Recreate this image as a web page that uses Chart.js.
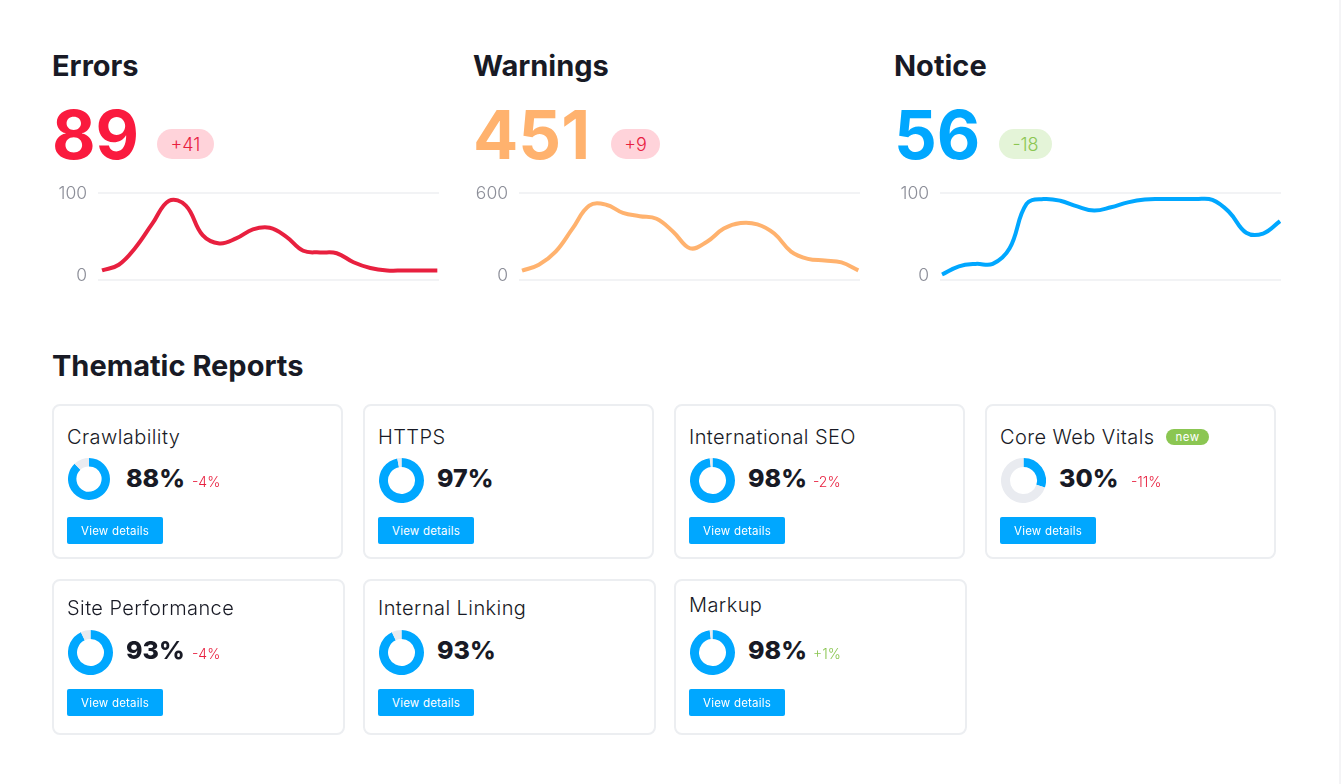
<!DOCTYPE html>
<html>
<head>
<meta charset="utf-8">
<script src="https://cdn.jsdelivr.net/npm/chart.js@4"></script>
<style>
  html, body { margin: 0; padding: 0; background: #fff; }
  body { width: 1341px; height: 784px; position: relative; overflow: hidden; font-family: Inter, sans-serif; color: #181a25; }
  #edge { position: absolute; left: 1339px; top: 0; width: 2px; height: 784px; background: #f4f4f6; }
  .abs { position: absolute; white-space: nowrap; }
  .heading { font-size: 29px; font-weight: 700; line-height: 34px; }
  .big { font-size: 67px; font-weight: 700; line-height: 80px; }
  .badge { height: 30px; line-height: 31px; border-radius: 15px; font-size: 18px; font-weight: 300; text-align: center; }
  .spark { position: absolute; width: 387px; height: 130px; top: 171px; }
  .card { position: absolute; box-sizing: border-box; border: 2px solid #eceef1; border-radius: 8px; background: #fff; }
  .card-title { position: absolute; left: 13px; font-size: 20px; line-height: 24px; white-space: nowrap; letter-spacing: .42px; font-weight: 300; }
  .donut { position: absolute; left: 14px; }
  .pct { position: absolute; left: 72px; font-size: 25px; font-weight: 800; line-height: 34px; }
  .delta { position: absolute; font-size: 14px; line-height: 18px; font-weight: 300; }
  .btn { position: absolute; left: 13px; width: 96px; height: 27px; line-height: 28px; background: #00a7ff; color: #fff; font-size: 11.5px; text-align: center; border-radius: 2px; letter-spacing: .2px; }
  .new { position: absolute; left: 179px; top: 23px; width: 43px; height: 16px; line-height: 16px; border-radius: 8px; background: #8bc652; color: #fff; font-size: 11.5px; text-align: center; letter-spacing: .4px; }
</style>
</head>
<body>
<div id="edge"></div>
<div id="top"></div>
<div class="abs heading" style="left:52px;top:349px">Thematic Reports</div>
<div id="cards"></div>
<script>
// Top row
const summaryTitles = ['Errors', 'Warnings', 'Notice'];
const summaryValues = ['89', '451', '56'];
const summaryChanges = ['+41', '+9', '-18'];
const summaryMax = [100, 600, 100];

const errorsLine = [5, 12, 33, 62, 90, 84, 48, 38, 44, 55, 57, 46, 29, 27, 26, 15, 8, 5, 5, 5, 5];
const warningsLine = [29, 72, 168, 336, 504, 511, 451, 427, 408, 312, 192, 240, 336, 377, 367, 300, 168, 115, 103, 89, 31];
const noticeLine = [0, 10, 13, 13, 32, 86, 92, 90, 83, 78, 82, 88, 91.5, 92, 92, 92, 91, 76, 51, 50, 65];

// Thematic reports
const reportNames = ['Crawlability', 'HTTPS', 'International SEO', 'Core Web Vitals', 'Site Performance', 'Internal Linking', 'Markup'];
const reportScores = [88, 97, 98, 30, 93, 93, 98];
const reportDeltas = ['-4%', '', '-2%', '-11%', '-4%', '', '+1%'];

const BLUE = '#00a7ff';
const RED = '#e8203f';
const GREEN = '#8bc652';

// Layout only
const topLayout = [
  { left: 52, big: '#fa1a3e', line: '#e8203f', badgeLeft: 157, badgeW: 57, bg: '#ffd3da', fg: RED, xMin: -0.24, xMax: 20.1 },
  { left: 473, big: '#ffb26e', line: '#ffb26e', badgeLeft: 611, badgeW: 49, bg: '#ffd3da', fg: RED, xMin: -0.18, xMax: 20.1 },
  { left: 894, big: BLUE, line: BLUE, badgeLeft: 999, badgeW: 53, bg: '#e4f4d8', fg: GREEN, xMin: -0.12, xMax: 20.06 }
];
const cardLayout = [
  { x: 52, y: 404, w: 291, h: 155, titleY: 19, donutY: 52, donut: 42, btnY: 111, deltaX: 138, pctY: 55 },
  { x: 363, y: 404, w: 291, h: 155, titleY: 19, donutY: 52, donut: 45, btnY: 111, deltaX: 138, pctY: 55 },
  { x: 674, y: 404, w: 291, h: 155, titleY: 19, donutY: 52, donut: 45, btnY: 111, deltaX: 137, pctY: 55 },
  { x: 985, y: 404, w: 291, h: 155, titleY: 19, donutY: 52, donut: 45, btnY: 111, deltaX: 144, pctY: 55 },
  { x: 52, y: 579, w: 293, h: 156, titleY: 15, donutY: 49, donut: 45, btnY: 108, deltaX: 138, pctY: 52 },
  { x: 363, y: 579, w: 293, h: 156, titleY: 15, donutY: 49, donut: 45, btnY: 108, deltaX: 138, pctY: 52 },
  { x: 674, y: 579, w: 293, h: 156, titleY: 12, donutY: 49, donut: 45, btnY: 108, deltaX: 137, pctY: 52 }
];

Chart.defaults.font.family = 'Inter, sans-serif';
Chart.defaults.animation = false;

const topEl = document.getElementById('top');
const lines = [errorsLine, warningsLine, noticeLine];

summaryTitles.forEach((title, i) => {
  const l = topLayout[i];
  topEl.insertAdjacentHTML('beforeend', `
    <div class="abs heading" style="left:${l.left}px;top:49px">${title}</div>
    <div class="abs big" style="left:${l.left}px;top:95px;color:${l.big}">${summaryValues[i]}</div>
    <div class="abs badge" style="left:${l.badgeLeft}px;top:129px;width:${l.badgeW}px;background:${l.bg};color:${l.fg}">${summaryChanges[i]}</div>
    <div class="spark" style="left:${l.left}px"><canvas id="line${i}"></canvas></div>`);

  const max = summaryMax[i];
  // the bottom rule sits a little under zero
  const floor = -max * 0.06;
  new Chart(document.getElementById('line' + i), {
    type: 'line',
    data: {
      datasets: [{
        data: lines[i].map((v, idx) => ({ x: idx, y: v })),
        borderColor: l.line,
        borderWidth: 4,
        pointRadius: 0,
        tension: 0.4,
        clip: false
      }]
    },
    options: {
      responsive: true,
      maintainAspectRatio: false,
      plugins: { legend: { display: false }, tooltip: { enabled: false } },
      scales: {
        x: { type: 'linear', display: false, min: l.xMin, max: l.xMax },
        y: {
          min: floor,
          max: max,
          afterBuildTicks: (axis) => { axis.ticks = [{ value: floor }, { value: 0 }, { value: max }]; },
          afterFit: (axis) => { axis.width = 46; },
          border: { display: false },
          grid: {
            drawTicks: false,
            lineWidth: 2,
            color: (ctx) => ctx.tick && ctx.tick.value === 0 ? 'rgba(0,0,0,0)' : '#f2f3f5'
          },
          ticks: {
            padding: 11,
            labelOffset: 1,
            color: '#8d8f99',
            font: { size: 17.5, weight: 300 },
            callback: (value) => value === floor ? '' : value
          }
        }
      }
    }
  });
});

const cardsEl = document.getElementById('cards');
reportNames.forEach((name, i) => {
  const c = cardLayout[i];
  const delta = reportDeltas[i];
  const deltaColor = delta.startsWith('+') ? GREEN : RED;
  cardsEl.insertAdjacentHTML('beforeend', `
    <div class="card" style="left:${c.x}px;top:${c.y}px;width:${c.w}px;height:${c.h}px">
      <div class="card-title" style="top:${c.titleY}px">${name}</div>
      ${name === 'Core Web Vitals' ? '<div class="new">new</div>' : ''}
      <div class="donut" style="top:${c.donutY}px;width:${c.donut}px;height:${c.donut}px"><canvas id="donut${i}"></canvas></div>
      <div class="pct" style="top:${c.pctY}px">${reportScores[i]}%</div>
      ${delta ? `<div class="delta" style="left:${c.deltaX}px;top:${c.pctY + 12}px;color:${deltaColor}">${delta}</div>` : ''}
      <div class="btn" style="top:${c.btnY}px">View details</div>
    </div>`);

  new Chart(document.getElementById('donut' + i), {
    type: 'doughnut',
    data: {
      datasets: [{
        data: [reportScores[i], 100 - reportScores[i]],
        backgroundColor: [BLUE, '#e9ebf0'],
        borderWidth: 0
      }]
    },
    options: {
      responsive: true,
      maintainAspectRatio: false,
      cutout: '60%',
      plugins: { legend: { display: false }, tooltip: { enabled: false } }
    }
  });
});
</script>
</body>
</html>
